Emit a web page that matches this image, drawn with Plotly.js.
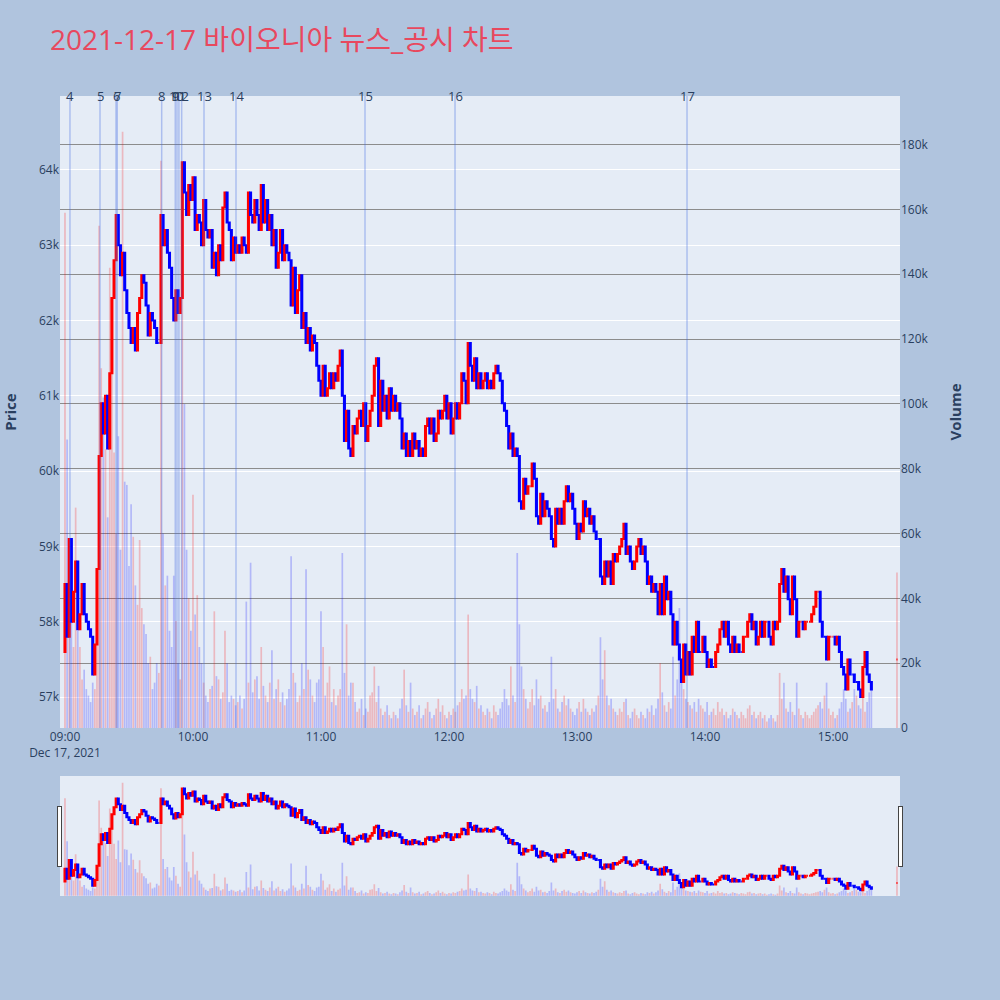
<!DOCTYPE html>
<html>
<head>
<meta charset="utf-8">
<script src="https://cdn.plot.ly/plotly-3.0.1.min.js"></script>
<style>body{margin:0;background:#B0C4DE}</style>
</head>
<body>
<div id="chart" style="width:1000px;height:1000px"></div>
<script>
// 1-minute closes from 09:00, continuous session
var firstOpen = 57600;
var closes = [
  58500,57800,59100,58000,58400,58800,57900,58100,58500,58100,
  58000,57900,57800,57300,57700,58700,60200,60900,60500,61000,
  60300,61300,62300,62800,63400,63000,62600,62900,62400,62100,
  61900,61700,61900,61600,62100,62300,62600,62500,62200,61800,
  62100,62000,61900,61700,61700,63400,63000,63200,62900,62700,
  62300,62000,62400,62100,62300,64100,63700,63400,63800,63600,
  63900,63200,63400,63300,63000,63600,63200,63100,63200,62700,
  62900,62600,63000,62800,63500,63700,63300,63200,62800,63100,
  62900,63000,62900,63100,63000,62900,63700,63400,63300,63600,
  63400,63200,63800,63300,63600,63200,63400,63000,63200,62700,
  62900,63200,62800,63000,62900,62800,62200,62700,62100,62400,
  62600,61900,62100,61700,61900,61600,61800,61700,61400,61200,
  61000,61400,61000,61100,61300,61100,61300,61200,61400,61600,
  61000,60400,60800,60300,60200,60600,60500,60700,60800,60600,
  60900,60400,60600,60800,61000,61400,61500,60600,61200,60800,
  61000,60700,61100,60800,61000,60800,60900,60700,60300,60500,
  60200,60400,60200,60500,60300,60400,60200,60300,60200,60600,
  60700,60500,60700,60400,60500,60800,60700,60800,61000,60700,
  60900,60500,60700,60900,60700,60900,61300,61200,60900,61700,
  61400,61200,61500,61100,61300,61100,61200,61300,61100,61200,
  61100,61300,61400,61300,61200,60900,60800,60600,60300,60500,
  60200,60300,60200,59600,59500,59900,59700,59800,59800,60100,
  59900,59400,59300,59700,59400,59600,59500,59400,59100,59000,
  59500,59300,59500,59300,59600,59800,59600,59700,59500,59300,
  59100,59300,59200,59600,59400,59500,59300,59400,59200,59100,
  59100,58600,58500,58800,58600,58800,58500,58900,58800,58900,
  59000,59100,59300,58900,59000,58800,58700,58800,59000,59100,
  58900,59000,58800,58500,58600,58400,58500,58400,58100,58500,
  58100,58600,58300,58400,58100,57700,58000,57700,57500,57200,
  57700,57300,57600,57300,57800,57600,58000,57600,57600,57800,
  57600,57400,57500,57400,57400,57600,57700,57900,58000,57800,
  58000,57700,57600,57800,57600,57700,57600,57600,57800,57800,
  58000,58100,57900,58000,57700,57800,58000,57800,58000,58000,
  57800,57700,58000,57900,58000,58500,58700,58400,58600,58300,
  58100,58600,58300,57800,58000,58000,57900,58000,58000,58000,
  58100,58200,58400,58400,58000,57800,57800,57500,57800,57800,
  57800,57700,57800,57600,57400,57300,57100,57500,57300,57300,
  57200,57200,57100,57000,57400,57600,57300,57200,57100
];
// volume per minute, thousands of shares
var volumeK = [
  159,89,52,40,25,68,30,25,15,18,
  12,10,8,14,12,47,155,111,102,86,
  65,142,115,85,60,90,55,184,76,75,
  50,69,59,44,38,58,37,32,29,20,
  22,12,14,20,17,175,60,44,47,30,
  25,47,33,20,15,140,100,55,40,30,
  72,35,41,25,20,14,10,8,12,13,
  36,16,15,9,11,30,20,8,10,9,
  7,8,10,6,9,39,14,51,11,15,
  16,9,25,13,10,8,14,24,9,12,
  15,8,11,7,9,12,53,17,14,8,
  10,20,12,49,18,15,10,8,14,15,
  36,25,10,14,19,8,12,7,10,12,
  54,17,32,10,14,14,8,5,6,9,
  4,6,5,10,11,19,8,13,6,4,
  5,7,4,3,5,4,3,6,9,18,
  7,5,14,6,4,5,7,3,4,6,
  8,5,3,4,6,9,5,7,4,3,
  5,4,6,5,7,8,12,9,10,35,
  12,9,8,13,6,7,5,4,6,5,
  3,7,5,4,6,8,12,9,7,19,
  10,8,54,32,19,12,9,6,8,12,
  7,15,9,10,6,7,5,8,22,9,
  12,6,5,8,10,7,9,6,5,4,
  6,8,5,9,6,5,4,6,5,7,
  10,28,15,24,10,7,9,6,5,4,
  6,5,8,9,4,3,5,6,4,3,
  5,4,3,6,5,7,4,6,9,20,
  11,7,5,8,6,22,10,15,37,18,
  12,9,8,7,6,8,5,9,7,6,
  5,8,4,5,6,4,8,5,6,4,
  5,3,4,6,5,4,3,5,4,3,
  6,7,4,5,3,4,5,3,4,2,
  3,4,3,2,4,17,9,14,6,5,
  8,5,4,14,6,4,3,5,4,3,
  4,5,6,7,8,6,10,14,6,4,
  5,3,4,6,8,12,9,5,6,8,
  12,10,7,6,10,5,8,11,12
];
// closing single-price auction
var auctionTime = '2021-12-17 15:30:00';
var auctionPrice = 57500;
var auctionVolumeK = 48;

var newsTimes = [
  '2021-12-17 09:02:20','2021-12-17 09:16:25','2021-12-17 09:23:55','2021-12-17 09:24:30',
  '2021-12-17 09:45:20','2021-12-17 09:51:42','2021-12-17 09:52:30','2021-12-17 09:53:25',
  '2021-12-17 09:54:42','2021-12-17 10:05:10','2021-12-17 10:20:10','2021-12-17 11:20:38',
  '2021-12-17 12:02:50','2021-12-17 13:51:35'
];
var newsLabels = ['4','5','6','7','8','9','10','11','12','13','14','15','16','17'];

function pad(n) { return (n < 10 ? '0' : '') + n; }
function minuteStamp(i) {
  var t = 9 * 60 + i;
  return '2021-12-17 ' + pad(Math.floor(t / 60)) + ':' + pad(t % 60) + ':00';
}

var x = [], o = [], h = [], l = [], c = [], v = [], vcol = [];
var prev = firstOpen;
function addCandle(t, op, cl, vk) {
  var up = cl > op || (cl === op && cl >= prev);
  x.push(t); o.push(op); c.push(cl);
  h.push(Math.max(op, cl)); l.push(Math.min(op, cl));
  v.push(vk * 1000);
  vcol.push(up ? 'rgba(255,0,0,0.22)' : 'rgba(0,0,255,0.22)');
  prev = cl;
}
for (var i = 0; i < closes.length; i++) {
  addCandle(minuteStamp(i), prev, closes[i], volumeK[i]);
}
addCandle(auctionTime, auctionPrice, auctionPrice, auctionVolumeK);

var fontFam = '"Open Sans", "Noto Sans CJK KR", verdana, arial, sans-serif';

var shapes = newsTimes.map(function (t) {
  return {type: 'line', xref: 'x', yref: 'paper', x0: t, x1: t, y0: 0, y1: 1,
          line: {color: 'rgba(65,105,225,0.35)', width: 1.5}};
});
var annotations = newsTimes.map(function (t, k) {
  return {x: t, xref: 'x', y: 1, yref: 'paper', yanchor: 'middle', text: newsLabels[k],
          showarrow: false, font: {size: 13, color: '#2a3f5f'}};
});

var volTrace = {
  type: 'bar', x: x, y: v, yaxis: 'y',
  marker: {color: vcol}, hoverinfo: 'skip'
};
var candleTrace = {
  type: 'candlestick', x: x, open: o, high: h, low: l, close: c, yaxis: 'y2',
  increasing: {line: {color: 'red', width: 2}, fillcolor: 'red'},
  decreasing: {line: {color: 'blue', width: 2}, fillcolor: 'blue'}
};

var layout = {
  width: 1000, height: 1000,
  paper_bgcolor: '#B0C4DE',
  plot_bgcolor: '#E5ECF6',
  font: {family: fontFam, color: '#2a3f5f', size: 12},
  showlegend: false,
  margin: {l: 60, r: 100, t: 96, b: 105},
  title: {text: '2021-12-17 바이오니아 뉴스_공시 차트', x: 0.05, xanchor: 'left',
          y: 0.96, yanchor: 'middle', font: {size: 28, color: '#E8485E', family: fontFam}},
  xaxis: {
    type: 'date',
    range: ['2021-12-17 08:57:40', '2021-12-17 15:31:25'],
    showgrid: false,
    rangeslider: {visible: true, bgcolor: '#E5ECF6', thickness: 0.15}
  },
  yaxis: {
    side: 'right', range: [0, 195000], dtick: 20000,
    showgrid: true, gridcolor: '#8c8c8c', zeroline: false,
    title: {text: 'Volume', standoff: 22, font: {size: 15, weight: 'bold'}}
  },
  yaxis2: {
    overlaying: 'y', side: 'left', range: [56590, 64980], dtick: 1000,
    showgrid: true, gridcolor: 'white', zeroline: false,
    title: {text: 'Price', standoff: 18, font: {size: 15, weight: 'bold'}}
  },
  shapes: shapes,
  annotations: annotations
};

Plotly.newPlot('chart', [volTrace, candleTrace], layout, {displayModeBar: false});
</script>
</body>
</html>
